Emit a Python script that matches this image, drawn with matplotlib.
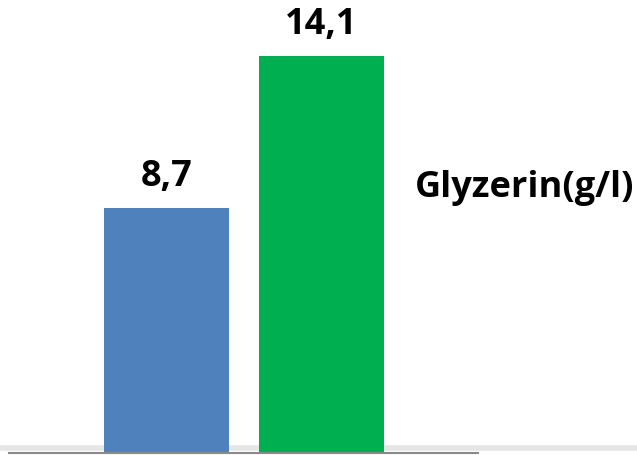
import matplotlib
matplotlib.use("Agg")
import matplotlib.pyplot as plt
from matplotlib.lines import Line2D

# ── Data ──
categories = ["A", "B"]
values = [8.7, 14.1]
labels = ["8,7", "14,1"]
colors = ["#4F81BD", "#00B050"]
series_name = "Glyzerin(g/l)"

plt.rcParams["font.family"] = ["Open Sans", "DejaVu Sans"]

fig = plt.figure(figsize=(6.37, 4.55), dpi=100)
ax = fig.add_axes([9 / 637, 2 / 455, 469 / 637, 453 / 455])
ax.patch.set_alpha(0)

x = list(range(len(categories)))
ax.bar(x, values, width=0.804, color=colors, zorder=2)

# value labels above each bar (baseline ~22 px above the bar top)
for xi, v, lab in zip(x, values, labels):
    ax.annotate(lab, (xi, v), xytext=(0, 16), textcoords="offset points",
                ha="center", va="baseline", fontsize=26, fontweight="bold")

ax.set_xlim(-1.013, 2.01)
ax.set_ylim(0, 16.09)
ax.set_xticks([])
ax.set_yticks([])
for side in ["top", "left", "right"]:
    ax.spines[side].set_visible(False)
ax.spines["bottom"].set_color("#8a8a8a")
ax.spines["bottom"].set_linewidth(1.5)

# faint floor shadow behind the bars
fig.add_artist(Line2D([0, 1], [1 - 448 / 455] * 2, transform=fig.transFigure,
                      color="#e6e6e6", linewidth=4, zorder=-1))

fig.text(415 / 637, 1 - 197 / 455, series_name, ha="left", va="baseline",
         fontsize=26, fontweight="bold")

plt.savefig("out.png", dpi=100)
